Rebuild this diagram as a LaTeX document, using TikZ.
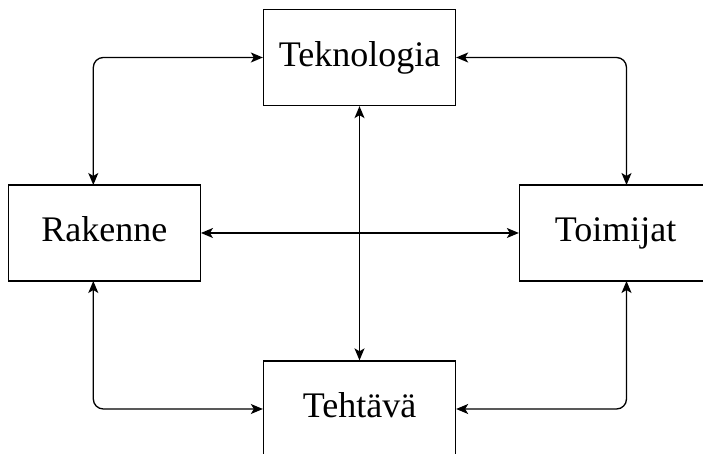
\documentclass[tikz,border=0pt]{standalone}
\usepackage{fontspec}
\setmainfont{Liberation Serif}
\usetikzlibrary{arrows.meta}
\begin{document}
\begin{tikzpicture}[x=1pt,y=1pt,
  box/.style={draw,line width=1.3pt,minimum width=192pt,minimum height=96pt,inner sep=0pt,text height=26.4pt,text depth=9pt,font=\fontsize{36}{40}\selectfont},
  tip/.tip={Stealth[length=12pt,width=10pt,inset=3pt]},
  conn/.style={line width=1.3pt,rounded corners=10pt,tip-tip}]
\useasboundingbox (0,0) rectangle (703,454);
\clip (0,0) rectangle (703,454);
\node[box] (tek) at (359.5,396.5) {Teknologia};
\node[box] (rak) at (104.3,221) {Rakenne};
\node[box] (toi) at (615.5,221) {Toimijat};
\node[box] (teh) at (359.5,45) {Tehtävä};
\coordinate (rakN) at (93.3,269);
\coordinate (rakS) at (93.3,173);
\coordinate (toiN) at (626.5,269);
\coordinate (toiS) at (626.5,173);
\draw[conn] (tek.west) -| (rakN);
\draw[conn] (tek.east) -| (toiN);
\draw[conn] (tek.south) -- (teh.north);
\draw[conn] (rak.east) -- (toi.west);
\draw[conn] (rakS) |- (teh.west);
\draw[conn] (toiS) |- (teh.east);
\end{tikzpicture}
\end{document}
